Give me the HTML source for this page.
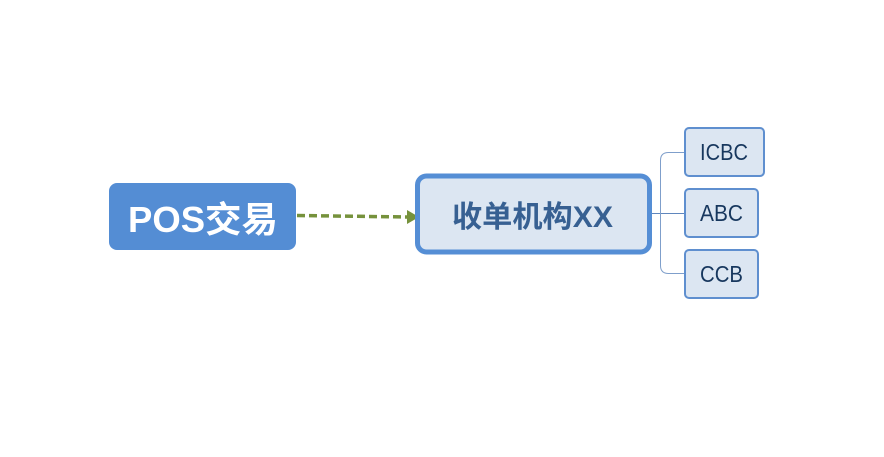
<!DOCTYPE html>
<html>
<head>
<meta charset="utf-8">
<style>
html,body{margin:0;padding:0;background:#fff;}
svg{display:block;}
text{font-family:"Liberation Sans","Noto Sans CJK SC",sans-serif;}
</style>
</head>
<body>
<svg width="884" height="457" viewBox="0 0 884 457" xmlns="http://www.w3.org/2000/svg">
<rect x="0" y="0" width="884" height="457" fill="#ffffff"/>
<!-- connectors -->
<path d="M650 213.5H684.5" fill="none" stroke="#5f86bd" stroke-width="1"/>
<path d="M684.5 152.5H668.5Q660.5 152.5 660.5 160.5V265.5Q660.5 273.5 668.5 273.5H684.5" fill="none" stroke="#7f9fcb" stroke-width="1"/>
<!-- POS node -->
<rect x="109" y="183" width="187" height="67" rx="8" ry="8" fill="#548dd4"/>
<text x="128" y="232" font-size="36" font-weight="700" fill="#ffffff" textLength="150" lengthAdjust="spacingAndGlyphs">POS交易</text>
<!-- arrow -->
<path d="M297 215.5L409 217" fill="none" stroke="#76923c" stroke-width="3.5" stroke-dasharray="8 4"/>
<path d="M407 210L419 217L407 224Z" fill="#76923c"/>
<!-- central node -->
<rect x="417.5" y="176" width="232" height="76" rx="9" ry="9" fill="#dce6f2" stroke="#558ed5" stroke-width="5"/>
<text x="452" y="227" font-size="30" font-weight="700" fill="#376092" textLength="161" lengthAdjust="spacingAndGlyphs">收单机构XX</text>
<!-- children -->
<rect x="685" y="128" width="79" height="48" rx="4" ry="4" fill="#dce6f2" stroke="#5f8fcf" stroke-width="2"/>
<text x="700" y="160" font-size="23" fill="#17375e" textLength="48" lengthAdjust="spacingAndGlyphs">ICBC</text>
<rect x="685" y="189" width="73" height="48" rx="4" ry="4" fill="#dce6f2" stroke="#5f8fcf" stroke-width="2"/>
<text x="700" y="221" font-size="23" fill="#17375e" textLength="43" lengthAdjust="spacingAndGlyphs">ABC</text>
<rect x="685" y="250" width="73" height="48" rx="4" ry="4" fill="#dce6f2" stroke="#5f8fcf" stroke-width="2"/>
<text x="700" y="282" font-size="23" fill="#17375e" textLength="43" lengthAdjust="spacingAndGlyphs">CCB</text>
</svg>
</body>
</html>
